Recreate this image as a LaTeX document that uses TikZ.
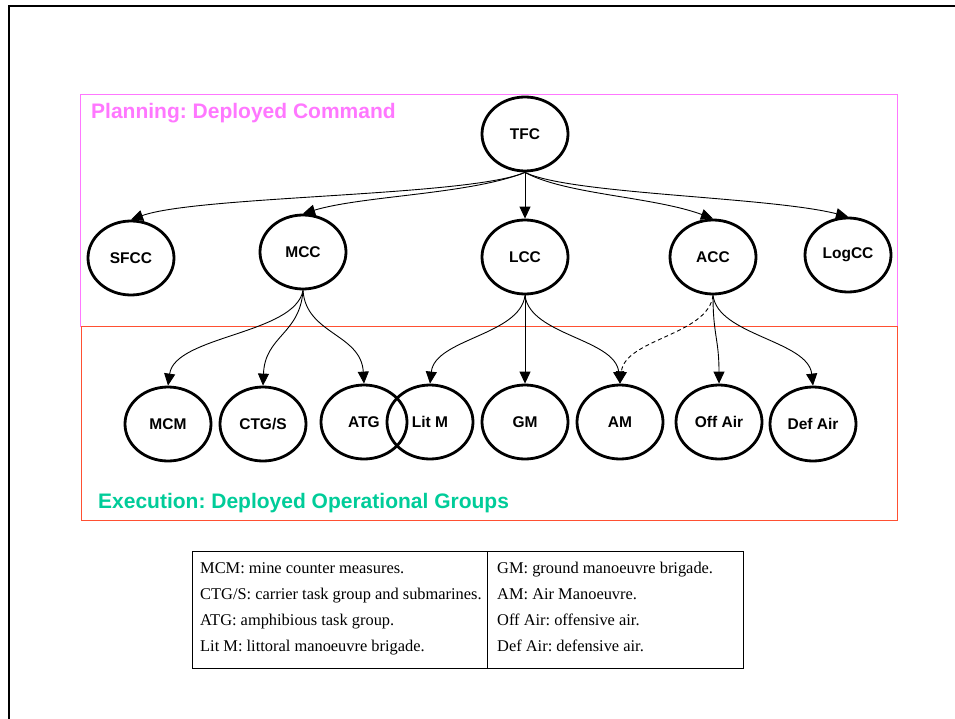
\documentclass[tikz,border=0pt]{standalone}
\usepackage{fontspec}
\setmainfont{Liberation Sans}
\newfontfamily\tabfont{Liberation Serif}
\usetikzlibrary{shapes.geometric,arrows.meta}
\definecolor{planpink}{RGB}{255,119,255}
\definecolor{execred}{RGB}{255,80,50}
\definecolor{execgreen}{RGB}{0,204,153}
\tikzset{
  unit/.style={ellipse,draw,line width=2.8pt,minimum width=86pt,minimum height=74pt,inner sep=0pt,
    font=\fontsize{15.5}{18}\selectfont\bfseries},
  link/.style={line width=0.9pt,-{Triangle[length=12pt,width=11pt]}},
  dlink/.style={link,dash pattern=on 4pt off 3pt},
  tabtext/.style={anchor=base west,inner sep=0pt,font=\tabfont\fontsize{16.4}{19}\selectfont},
  zonetitle/.style={anchor=base west,inner sep=0pt,font=\fontsize{21}{25}\selectfont\bfseries}
}
\begin{document}
\frenchspacing
\begin{tikzpicture}[x=1pt,y=-1pt]
\useasboundingbox (0,0) rectangle (955,719);
% outer frame
\draw[line width=2pt] (9,719) -- (9,6) -- (956,6);
% zones
\draw[planpink,line width=1pt] (80,95) rectangle (897,326);
\draw[execred,line width=1pt] (81,326) rectangle (897,520);
\node[zonetitle,text=planpink] (plan) at (91,119) {Planning: Deployed Command};
\node[zonetitle,text=execgreen] (exec) at (98,508) {Execution: Deployed Operational Groups};
% nodes
\node[unit] (tfc) at (525,134) {TFC};
\node[unit] (sfcc) at (131,258) {SFCC};
\node[unit] (mcc) at (303,252) {MCC};
\node[unit] (lcc) at (525,257) {LCC};
\node[unit] (acc) at (713,257) {ACC};
\node[unit] (logcc) at (848,255) {LogCC};
\node[unit] (mcm) at (168,424) {MCM};
\node[unit] (ctgs) at (263,424) {CTG/S};
\node[unit] (atg) at (364,422) {ATG};
\node[unit] (litm) at (430,422) {Lit M};
\node[unit] (gm) at (525,422) {GM};
\node[unit] (am) at (620,422) {AM};
\node[unit] (offair) at (719,422) {Off Air};
\node[unit] (defair) at (813,424) {Def Air};
% top edges
\draw[link] (tfc.south) .. controls +(-55,24) and +(67,-24) .. (sfcc.north);
\draw[link] (tfc.south) .. controls +(-55,22) and +(60,-18) .. (mcc.north);
\draw[link] (tfc.south) -- (lcc.north);
\draw[link] (tfc.south) .. controls +(40,22) and +(-60,-22) .. (acc.north);
\draw[link] (tfc.south) .. controls +(45,22) and +(-80,-20) .. (logcc.north);
% bottom edges
\draw[link] (mcc.south) .. controls +(-8,44) and +(7,-50) .. (mcm.north);
\draw[link] (mcc.south) .. controls +(-3,44) and +(2,-50) .. (ctgs.north);
\draw[link] (mcc.south) .. controls +(3,44) and +(-3,-50) .. (atg.north);
\draw[link] (lcc.south) .. controls +(-5,40) and +(5,-45) .. (litm.north);
\draw[link] (lcc.south) -- (gm.north);
\draw[link] (lcc.south) .. controls +(5,40) and +(-5,-45) .. (am.north);
\draw[dlink] (acc.south) .. controls +(-5,40) and +(5,-45) .. (am.north);
\draw[link] (acc.south) .. controls +(0,40) and +(0,-45) .. (offair.north);
\draw[link] (acc.south) .. controls +(5,40) and +(-5,-45) .. (defair.north);
% legend table
\draw[line width=1pt] (192,551) rectangle (743,668);
\draw[line width=1pt] (487,551) -- (487,668);
\node[tabtext] (l1) at (200,573) {MCM: mine counter measures.};
\node[tabtext] (l2) at (200,599) {CTG/S: carrier task group and submarines.};
\node[tabtext] (l3) at (200,625) {ATG: amphibious task group.};
\node[tabtext] (l4) at (200,651) {Lit M: littoral manoeuvre brigade.};
\node[tabtext] (r1) at (497,573) {GM: ground manoeuvre brigade.};
\node[tabtext] (r2) at (497,599) {AM: Air Manoeuvre.};
\node[tabtext] (r3) at (497,625) {Off Air: offensive air.};
\node[tabtext] (r4) at (497,651) {Def Air: defensive air.};
\end{tikzpicture}
\end{document}
